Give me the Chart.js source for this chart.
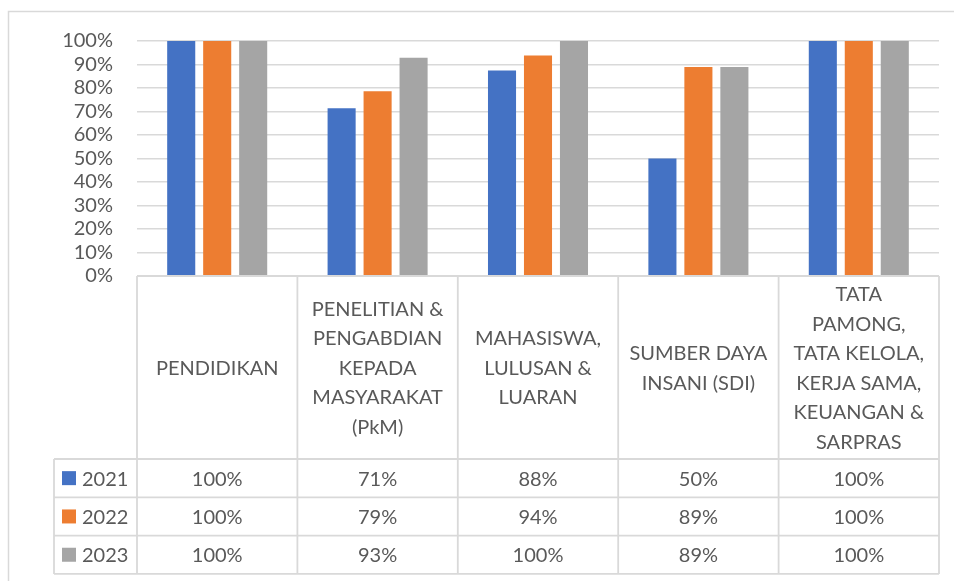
<!DOCTYPE html>
<html>
<head>
<meta charset="utf-8">
<script src="https://cdn.jsdelivr.net/npm/chart.js@4"></script>
<style>
  html, body { margin: 0; padding: 0; background: #fff; }
  #wrap { width: 954px; height: 581px; }
</style>
</head>
<body>
<div id="wrap"><canvas id="chart" width="954" height="581"></canvas></div>
<script>
// categories, each one is a list of header lines as in the data table
const categories = [
  ['PENDIDIKAN'],
  ['PENELITIAN &', 'PENGABDIAN', 'KEPADA', 'MASYARAKAT', '(PkM)'],
  ['MAHASISWA,', 'LULUSAN &', 'LUARAN'],
  ['SUMBER DAYA', 'INSANI (SDI)'],
  ['TATA', 'PAMONG,', 'TATA KELOLA,', 'KERJA SAMA,', 'KEUANGAN &', 'SARPRAS']
]
const seriesNames = ['2021', '2022', '2023']
const values2021 = [100, 71.4, 87.5, 50, 100]
const values2022 = [100, 78.6, 93.8, 88.9, 100]
const values2023 = [100, 92.9, 100, 88.9, 100]
const yTicks = [0, 10, 20, 30, 40, 50, 60, 70, 80, 90, 100]

const colors = ['#4472C4', '#ED7D31', '#A5A5A5']
const textColor = '#595959'
const lineColor = '#D9D9D9'
const fontFamily = 'Lato, "Open Sans", sans-serif'

const allValues = [values2021, values2022, values2023]

// draws the outer frame and the data table under the plot
const dataTable = {
  id: 'dataTable',
  beforeDraw(chart) {
    const ctx = chart.ctx
    ctx.save()
    ctx.fillStyle = '#fff'
    ctx.fillRect(0, 0, chart.width, chart.height)
    ctx.strokeStyle = lineColor
    ctx.lineWidth = 1.5
    ctx.strokeRect(8.5, 11.5, chart.width + 20, chart.height + 20)
    ctx.restore()
  },
  afterDraw(chart) {
    const ctx = chart.ctx
    const x = chart.scales.x
    const area = chart.chartArea
    const n = categories.length
    const catW = (area.right - area.left) / n
    const top = area.bottom
    const headerBottom = 459
    const rowH = 38.3
    const tableBottom = headerBottom + rowH * seriesNames.length
    const legendLeft = 54

    ctx.save()
    ctx.strokeStyle = lineColor
    ctx.lineWidth = 1.8
    ctx.beginPath()
    // vertical lines of the header + value columns
    for (let i = 0; i <= n; i++) {
      const lx = area.left + i * catW
      ctx.moveTo(lx, top)
      ctx.lineTo(lx, tableBottom)
    }
    // horizontal lines
    ctx.moveTo(area.left, top)
    ctx.lineTo(area.right, top)
    for (let r = 0; r <= seriesNames.length; r++) {
      const ly = headerBottom + r * rowH
      ctx.moveTo(legendLeft, ly)
      ctx.lineTo(area.right, ly)
    }
    ctx.moveTo(legendLeft, headerBottom)
    ctx.lineTo(legendLeft, tableBottom)
    ctx.stroke()

    ctx.fillStyle = textColor
    ctx.font = '20px ' + fontFamily
    ctx.textAlign = 'center'
    ctx.textBaseline = 'middle'

    // header labels, centred in their cells
    const lineH = 29.5
    const headerMid = (top + headerBottom) / 2
    categories.forEach((lines, i) => {
      const cx = x.getPixelForValue(i)
      const y0 = headerMid - (lines.length - 1) * lineH / 2
      lines.forEach((t, k) => ctx.fillText(t, cx, y0 + k * lineH + 1))
    })

    // value rows with legend keys
    seriesNames.forEach((name, r) => {
      const cy = headerBottom + r * rowH + rowH / 2
      ctx.fillStyle = colors[r]
      ctx.fillRect(62, cy - 7, 14, 14)
      ctx.fillStyle = textColor
      ctx.textAlign = 'left'
      ctx.fillText(name, 82, cy + 1)
      ctx.textAlign = 'center'
      allValues[r].forEach((v, i) => {
        ctx.fillText(Math.round(v) + '%', x.getPixelForValue(i), cy + 1)
      })
    })
    ctx.restore()
  }
}

new Chart(document.getElementById('chart'), {
  type: 'bar',
  data: {
    labels: categories.map(c => c.join(' ')),
    datasets: seriesNames.map((name, i) => ({
      label: name,
      data: allValues[i],
      backgroundColor: colors[i],
      categoryPercentage: 0.673,
      barPercentage: 0.78
    }))
  },
  options: {
    responsive: false,
    animation: false,
    layout: { padding: { left: 8, top: 41, right: 15, bottom: 305 } },
    plugins: {
      legend: { display: false },
      tooltip: { enabled: false }
    },
    scales: {
      x: { display: false },
      y: {
        min: 0,
        max: 100,
        afterFit(scale) { scale.width = 129 },
        afterBuildTicks(scale) { scale.ticks = yTicks.map(v => ({ value: v })) },
        border: { display: false },
        grid: { color: lineColor, lineWidth: 1.6, drawTicks: false },
        ticks: {
          autoSkip: false,
          padding: 24,
          color: textColor,
          font: { family: fontFamily, size: 20 },
          callback: v => v + '%'
        }
      }
    }
  },
  plugins: [dataTable]
})
</script>
</body>
</html>
